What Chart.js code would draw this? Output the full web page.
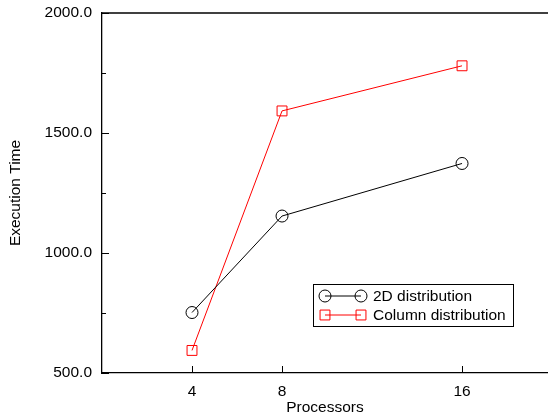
<!DOCTYPE html>
<html>
<head>
<meta charset="utf-8">
<script src="https://cdn.jsdelivr.net/npm/chart.js@4/dist/chart.umd.min.js"></script>
<style>
  html, body { margin: 0; padding: 0; background: #fff; }
</style>
</head>
<body>
<canvas id="chart" width="548" height="417"></canvas>
<script>
const processors = [4, 8, 16];
const dist2D = [752, 1154, 1373];
const distColumn = [594, 1592, 1780];
const xTicks = [4, 8, 16];
const yMinorTicks = [750, 1250, 1750];
const seriesNames = ['2D distribution', 'Column distribution'];

const FONT = '"Liberation Sans", Arial, Helvetica, sans-serif';
const toPoints = vals => processors.map((p, i) => ({ x: p, y: vals[i] }));

// top border, inward ticks and the boxed legend
const framePlugin = {
  id: 'frame',
  afterDraw(chart) {
    const { ctx, chartArea: a, scales: { x, y } } = chart;
    ctx.save();
    ctx.strokeStyle = '#000';
    ctx.lineWidth = 1.3;
    ctx.beginPath();
    ctx.moveTo(a.left, a.top);
    ctx.lineTo(a.right, a.top);
    ctx.stroke();

    ctx.lineWidth = 1;
    const seg = (x1, y1, x2, y2) => {
      ctx.beginPath(); ctx.moveTo(x1, y1); ctx.lineTo(x2, y2); ctx.stroke();
    };
    y.ticks.forEach(t => {
      const py = Math.round(y.getPixelForValue(t.value)) + 0.5;
      seg(a.left, py, a.left + 7, py);
    });
    yMinorTicks.forEach(v => {
      const py = Math.round(y.getPixelForValue(v)) + 0.5;
      seg(a.left, py, a.left + 4, py);
    });
    x.ticks.forEach(t => {
      const px = Math.round(x.getPixelForValue(t.value)) + 0.5;
      seg(px, a.bottom, px, a.bottom - 7);
    });

    // legend
    const bx = 313.5, by = 284.5, bw = 200, bh = 42;
    ctx.lineWidth = 1;
    ctx.strokeStyle = '#000';
    ctx.strokeRect(bx, by, bw, bh);
    ctx.font = '15.5px ' + FONT;
    ctx.textBaseline = 'middle';
    ctx.textAlign = 'left';
    chart.data.datasets.forEach((ds, i) => {
      const ry = 296 + i * 19;
      const x1 = 325, x2 = 361;
      ctx.strokeStyle = ds.borderColor;
      seg(x1, ry, x2, ry);
      [x1, x2].forEach(mx => {
        ctx.beginPath();
        if (ds.pointStyle === 'circle') {
          ctx.arc(mx, ry, ds.pointRadius, 0, Math.PI * 2);
        } else {
          const s = ds.pointRadius * Math.SQRT1_2;
          ctx.rect(mx - s, ry - s, 2 * s, 2 * s);
        }
        ctx.stroke();
      });
      ctx.fillStyle = '#000';
      ctx.fillText(ds.label, 373, ry + 0.5);
    });
    ctx.restore();
  }
};

new Chart(document.getElementById('chart'), {
  type: 'line',
  data: {
    datasets: [
      {
        label: seriesNames[0],
        data: toPoints(dist2D),
        borderColor: '#000',
        borderWidth: 1,
        pointStyle: 'circle',
        pointRadius: 6,
        pointBorderWidth: 1,
        pointBorderColor: '#000',
        pointBackgroundColor: 'rgba(0,0,0,0)',
        tension: 0
      },
      {
        label: seriesNames[1],
        data: toPoints(distColumn),
        borderColor: '#ff0000',
        borderWidth: 1,
        pointStyle: 'rect',
        pointRadius: 7,
        pointBorderWidth: 1,
        pointBorderColor: '#ff0000',
        pointBackgroundColor: 'rgba(0,0,0,0)',
        tension: 0
      }
    ]
  },
  options: {
    responsive: false,
    animation: false,
    layout: { autoPadding: false, padding: { top: 13, right: 0, left: 0, bottom: 0 } },
    plugins: { legend: { display: false }, tooltip: { enabled: false } },
    scales: {
      x: {
        type: 'linear',
        min: 0,
        max: 19.82,
        grid: { display: false, drawTicks: false },
        border: { display: true, color: '#000', width: 1.3 },
        afterBuildTicks: s => { s.ticks = xTicks.map(v => ({ value: v })); },
        afterFit: s => { s.height = 44; s.paddingLeft = 0; s.paddingRight = 0; },
        ticks: { color: '#000', padding: 9, font: { family: FONT, size: 15.5 } },
        title: {
          display: true, text: 'Processors', color: '#000',
          padding: { top: 0, bottom: 0 },
          font: { family: FONT, size: 15.5 }
        }
      },
      y: {
        min: 500,
        max: 2000,
        grid: { display: false, drawTicks: false },
        border: { display: true, color: '#000', width: 1.3 },
        afterFit: s => { s.width = 102; s.paddingTop = 0; s.paddingBottom = 0; },
        ticks: {
          stepSize: 500, color: '#000', padding: 10,
          font: { family: FONT, size: 15.5 },
          callback: v => v.toFixed(1)
        },
        title: {
          display: true, text: 'Execution Time', color: '#000',
          padding: { top: 6, bottom: 0 },
          font: { family: FONT, size: 15.5 }
        }
      }
    }
  },
  plugins: [framePlugin]
});
</script>
</body>
</html>
